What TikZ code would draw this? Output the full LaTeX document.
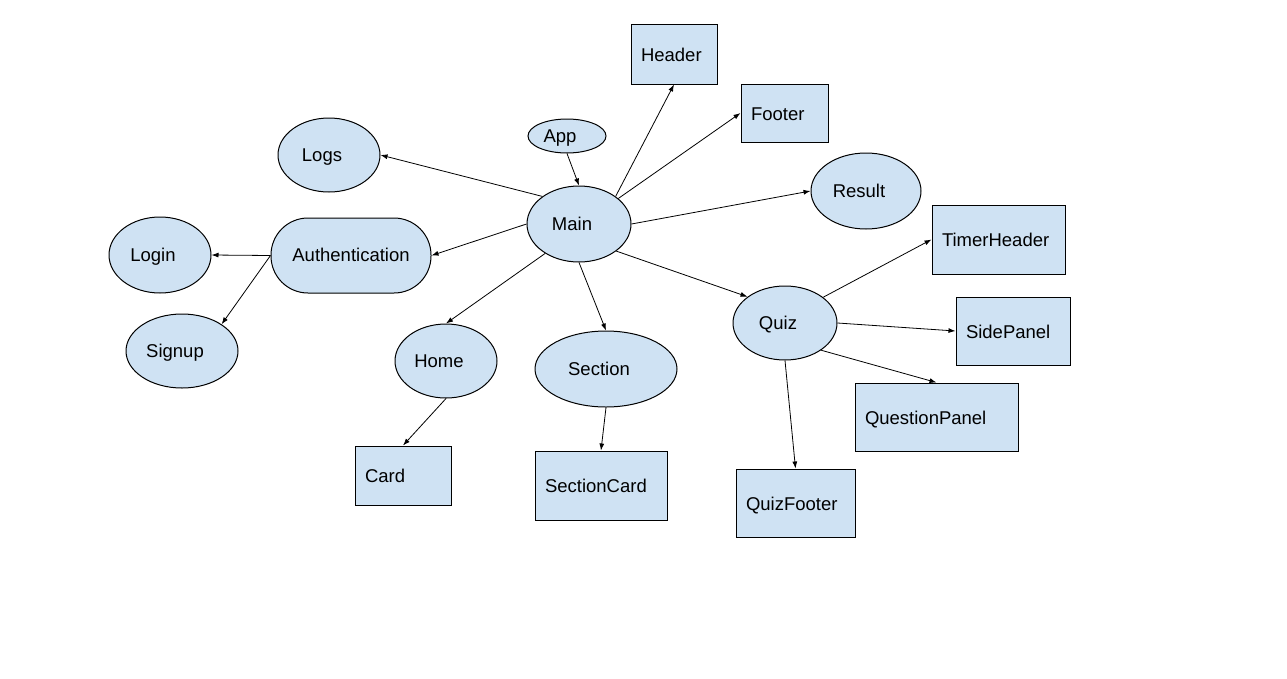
\documentclass[tikz,border=0pt]{standalone}
\usepackage{fontspec}
\setmainfont{Liberation Sans}
\usetikzlibrary{shapes.geometric,arrows.meta}
\definecolor{nodefill}{HTML}{CFE2F3}
\tikzset{
  base/.style={draw=black, line width=1pt, fill=nodefill, inner sep=0pt, text height=12pt, text depth=0pt, font=\fontsize{18.5}{22}\selectfont},
  ell/.style={base, ellipse, execute at begin node={\hspace*{-14pt}}},
  box/.style={base, rectangle, inner xsep=10pt, align=left, text height=14pt},
  pill/.style={base, rectangle, rounded corners=37pt},
  conn/.style={line width=0.8pt, -{Latex[length=7pt,width=5pt]}}
}
\begin{document}
\begin{tikzpicture}[x=1pt,y=-1pt]
\useasboundingbox (0,0) rectangle (1287,678);
% rectangles
\node[box, text width=66, minimum height=60] (header) at (674,54) {Header};
\node[box, text width=67, minimum height=58] (footer) at (784.5,113) {Footer};
\node[box, text width=113, minimum height=69] (timer) at (998.5,239.5) {TimerHeader};
\node[box, text width=94, minimum height=68] (side) at (1013,331) {SidePanel};
\node[box, text width=143, minimum height=68] (question) at (936.5,417) {QuestionPanel};
\node[box, text width=76, minimum height=59] (card) at (403,475.5) {Card};
\node[box, text width=112, minimum height=69] (sectioncard) at (601,485.5) {SectionCard};
\node[box, text width=99, minimum height=68] (quizfooter) at (795.5,503) {QuizFooter};
% ellipses
\node[ell, minimum width=78, minimum height=34] (app) at (567,136) {App};
\node[ell, minimum width=102, minimum height=74] (logs) at (329,155) {Logs};
\node[ell, minimum width=104, minimum height=76] (main) at (579,224) {Main};
\node[ell, minimum width=110, minimum height=76] (result) at (866,191) {Result};
\node[ell, minimum width=102, minimum height=76] (login) at (160,255) {Login};
\node[ell, minimum width=112, minimum height=74] (signup) at (182,351) {Signup};
\node[ell, minimum width=104, minimum height=74] (quiz) at (785,323) {Quiz};
\node[ell, minimum width=102, minimum height=74] (home) at (446,361) {Home};
\node[ell, minimum width=142, minimum height=76] (section) at (606,369) {Section};
\node[pill, minimum width=160, minimum height=75] (auth) at (351,255.5) {Authentication};
% connectors
\draw[conn] (app.south) -- (main.north);
\draw[conn] (main.143) -- (logs.east);
\draw[conn] (main.37) -- (header.south);
\draw[conn] (main.33) -- (footer.west);
\draw[conn] (main.east) -- (result.west);
\draw[conn] (main.west) -- (auth.east);
\draw[conn] (auth.west) -- (login.east);
\draw[conn] (auth.west) -- (signup.34);
\draw[conn] (main.221) -- (home.north);
\draw[conn] (main.south) -- (section.north);
\draw[conn] (main.324) -- (quiz.145);
\draw[conn] (quiz.34) -- (timer.west);
\draw[conn] (quiz.east) -- (side.west);
\draw[conn] (quiz.323) -- (question.north);
\draw[conn] (quiz.south) -- (quizfooter.north);
\draw[conn] (home.south) -- (card.north);
\draw[conn] (section.south) -- (sectioncard.north);
\end{tikzpicture}
\end{document}
